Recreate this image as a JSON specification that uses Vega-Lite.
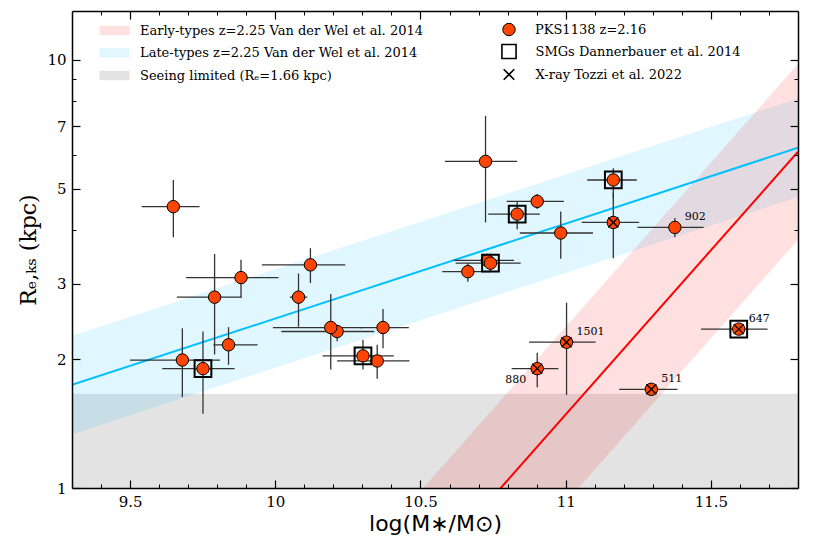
{
  "$schema": "https://vega.github.io/schema/vega-lite/v6.json",
  "width": 726,
  "height": 477,
  "autosize": {"type": "none"},
  "padding": {"left": 72, "top": 11, "right": 32, "bottom": 66},
  "background": "white",
  "config": {"view": {"stroke": null}, "font": "DejaVu Serif"},
  "datasets": {
    "gal": [
      {"M": 9.649, "R": 4.54, "xlo": 9.54, "xhi": 9.739, "ylo": 3.85, "yhi": 5.24},
      {"M": 9.882, "R": 3.10, "xlo": 9.693, "xhi": 10.011, "ylo": 2.79, "yhi": 3.41},
      {"M": 9.791, "R": 2.79, "xlo": 9.661, "xhi": 9.885, "ylo": 2.05, "yhi": 3.52},
      {"M": 9.839, "R": 2.16, "xlo": 9.787, "xhi": 9.939, "ylo": 1.94, "yhi": 2.375},
      {"M": 9.68, "R": 1.99, "xlo": 9.5, "xhi": 9.81, "ylo": 1.63, "yhi": 2.36},
      {"M": 9.751, "R": 1.90, "xlo": 9.611, "xhi": 9.86, "ylo": 1.49, "yhi": 2.32, "smg": true},
      {"M": 10.08, "R": 2.79, "xlo": 10.05, "xhi": 10.11, "ylo": 2.38, "yhi": 3.17},
      {"M": 10.121, "R": 3.32, "xlo": 9.954, "xhi": 10.241, "ylo": 3.01, "yhi": 3.63},
      {"M": 10.213, "R": 2.32, "xlo": 10.021, "xhi": 10.341, "ylo": 2.20, "yhi": 2.40},
      {"M": 10.191, "R": 2.37, "xlo": 9.992, "xhi": 10.30, "ylo": 1.89, "yhi": 2.84},
      {"M": 10.371, "R": 2.37, "xlo": 10.293, "xhi": 10.46, "ylo": 2.12, "yhi": 2.62},
      {"M": 10.302, "R": 2.035, "xlo": 10.163, "xhi": 10.408, "ylo": 1.89, "yhi": 2.22, "smg": true},
      {"M": 10.351, "R": 1.98, "xlo": 10.213, "xhi": 10.462, "ylo": 1.80, "yhi": 2.16},
      {"M": 10.902, "R": 4.67, "xlo": 10.797, "xhi": 10.994, "ylo": 4.48, "yhi": 4.86},
      {"M": 10.833, "R": 4.36, "xlo": 10.733, "xhi": 10.911, "ylo": 4.02, "yhi": 4.67, "smg": true},
      {"M": 10.983, "R": 3.94, "xlo": 10.842, "xhi": 11.094, "ylo": 3.43, "yhi": 4.42},
      {"M": 11.164, "R": 4.17, "xlo": 11.055, "xhi": 11.253, "ylo": 3.44, "yhi": 4.90, "xray": true},
      {"M": 11.164, "R": 5.24, "xlo": 11.074, "xhi": 11.245, "ylo": 4.75, "yhi": 5.58, "smg": true},
      {"M": 10.663, "R": 3.20, "xlo": 10.575, "xhi": 10.741, "ylo": 3.03, "yhi": 3.35},
      {"M": 10.73, "R": 3.40, "xlo": 10.615, "xhi": 10.822, "ylo": 3.30, "yhi": 3.50},
      {"M": 10.741, "R": 3.35, "xlo": 10.621, "xhi": 10.845, "ylo": 3.20, "yhi": 3.53, "smg": true},
      {"M": 10.724, "R": 5.79, "xlo": 10.584, "xhi": 10.833, "ylo": 4.17, "yhi": 7.40},
      {"M": 11.376, "R": 4.06, "xlo": 11.247, "xhi": 11.475, "ylo": 3.85, "yhi": 4.27, "label": "902"},
      {"M": 11.003, "R": 2.19, "xlo": 10.874, "xhi": 11.103, "ylo": 1.65, "yhi": 2.71, "xray": true, "label": "1501"},
      {"M": 10.902, "R": 1.90, "xlo": 10.814, "xhi": 10.975, "ylo": 1.72, "yhi": 2.07, "xray": true, "label": "880"},
      {"M": 11.295, "R": 1.70, "xlo": 11.184, "xhi": 11.385, "xray": true, "label": "511"},
      {"M": 11.596, "R": 2.35, "xlo": 11.466, "xhi": 11.695, "smg": true, "xray": true, "label": "647"}
    ],
    "bands": [
      {"type": "LTG", "M": 9.3, "mid": 1.741, "lo": 1.336, "hi": 2.269},
      {"type": "LTG", "M": 11.8, "mid": 6.23, "lo": 4.78, "hi": 8.12},
      {"type": "ETG", "M": 10.3, "mid": 0.431, "lo": 0.269, "hi": 0.691},
      {"type": "ETG", "M": 11.8, "mid": 6.10, "lo": 3.80, "hi": 9.77}
    ],
    "seeing": [{"x0": 9.3, "x1": 11.8, "r0": 1, "r1": 1.66}]
  },
  "layer": [
    {
      "data": {"name": "seeing"},
      "mark": {"type": "rect"},
      "encoding": {
        "x": {"field": "x0", "type": "quantitative", "scale": {"domain": [9.3, 11.8], "nice": false, "zero": false},
          "axis": {"orient": "bottom", "values": [9.5, 10, 10.5, 11, 11.5], "format": "~g", "tickSize": -8, "tickWidth": 1.2, "tickColor": "black", "labelPadding": 14, "labelFont": "DejaVu Serif", "labelFontSize": 15, "labelColor": "black", "domain": true, "domainColor": "black", "domainWidth": 1.5, "grid": false, "zindex": 1, "title": "log(M∗/M⊙)", "titleFont": "DejaVu Sans", "titleFontSize": 22, "titleFontWeight": "normal", "titleColor": "black", "titlePadding": 4}},
        "x2": {"field": "x1"},
        "y": {"field": "r0", "type": "quantitative", "scale": {"type": "log", "domain": [1, 13], "nice": false},
          "axis": {"orient": "left", "values": [1, 2, 3, 5, 7, 10], "format": "~g", "tickSize": -8, "tickWidth": 1.2, "tickColor": "black", "labelPadding": 14, "labelFont": "DejaVu Serif", "labelFontSize": 15, "labelColor": "black", "domain": true, "domainColor": "black", "domainWidth": 1.5, "grid": false, "zindex": 1, "title": "Rₑ,ₖₛ (kpc)", "titleFont": "DejaVu Serif", "titleFontSize": 22, "titleFontWeight": "normal", "titleColor": "black", "titlePadding": 6}},
        "y2": {"field": "r1"},
        "fill": {"datum": "Seeing limited (Rₑ=1.66 kpc)", "type": "nominal",
          "scale": {"domain": ["Early-types z=2.25 Van der Wel et al. 2014", "Late-types z=2.25 Van der Wel et al. 2014", "Seeing limited (Rₑ=1.66 kpc)"], "range": ["rgba(255,0,0,0.12)", "rgba(0,191,255,0.12)", "rgba(128,128,128,0.22)"]},
          "legend": {"orient": "none", "legendX": 33, "legendY": 10, "title": null, "symbolType": "M-1.6,-0.5H1.6V0.5H-1.6Z", "symbolSize": 353, "symbolStrokeWidth": 0, "labelFont": "DejaVu Serif", "labelFontSize": 13, "labelColor": "black", "labelOffset": 16, "labelLimit": 500, "rowPadding": 5.5, "padding": 0}}
      }
    },
    {
      "data": {"name": "bands"},
      "transform": [{"filter": "datum.type === 'LTG'"}],
      "mark": {"type": "area", "clip": true},
      "encoding": {
        "x": {"field": "M", "type": "quantitative", "scale": {"domain": [9.3, 11.8], "nice": false, "zero": false},
          "axis": {"orient": "bottom", "values": [9.4, 9.6, 9.7, 9.8, 9.9, 10.1, 10.2, 10.3, 10.4, 10.6, 10.7, 10.8, 10.9, 11.1, 11.2, 11.3, 11.4, 11.6, 11.7], "tickSize": -4, "tickWidth": 1, "tickColor": "black", "labels": false, "domain": false, "grid": false, "zindex": 1, "title": null}},
        "y": {"field": "lo", "type": "quantitative", "scale": {"type": "log", "domain": [1, 13], "nice": false},
          "axis": {"orient": "left", "values": [4, 6, 8, 9], "tickSize": -4, "tickWidth": 1, "tickColor": "black", "labels": false, "domain": false, "grid": false, "zindex": 1, "title": null}},
        "y2": {"field": "hi"},
        "fill": {"datum": "Late-types z=2.25 Van der Wel et al. 2014", "type": "nominal"}
      }
    },
    {
      "data": {"name": "bands"},
      "transform": [{"filter": "datum.type === 'ETG'"}],
      "mark": {"type": "area", "clip": true},
      "encoding": {
        "x": {"field": "M", "type": "quantitative", "scale": {"domain": [9.3, 11.8], "nice": false, "zero": false},
          "axis": {"orient": "top", "values": [9.5, 10, 10.5, 11, 11.5], "tickSize": -8, "tickWidth": 1.2, "tickColor": "black", "labels": false, "domain": true, "domainColor": "black", "domainWidth": 1.5, "grid": false, "zindex": 1, "title": null}},
        "y": {"field": "lo", "type": "quantitative", "scale": {"type": "log", "domain": [1, 13], "nice": false},
          "axis": {"orient": "right", "values": [1, 2, 3, 5, 7, 10], "tickSize": -8, "tickWidth": 1.2, "tickColor": "black", "labels": false, "domain": true, "domainColor": "black", "domainWidth": 1.5, "grid": false, "zindex": 1, "title": null}},
        "y2": {"field": "hi"},
        "fill": {"datum": "Early-types z=2.25 Van der Wel et al. 2014", "type": "nominal"}
      }
    },
    {
      "data": {"name": "bands"},
      "transform": [{"filter": "datum.type === 'LTG'"}],
      "mark": {"type": "line", "color": "#00bfff", "strokeWidth": 2, "clip": true},
      "encoding": {
        "x": {"field": "M", "type": "quantitative", "scale": {"domain": [9.3, 11.8], "nice": false, "zero": false},
          "axis": {"orient": "top", "values": [9.4, 9.6, 9.7, 9.8, 9.9, 10.1, 10.2, 10.3, 10.4, 10.6, 10.7, 10.8, 10.9, 11.1, 11.2, 11.3, 11.4, 11.6, 11.7], "tickSize": -4, "tickWidth": 1, "tickColor": "black", "labels": false, "domain": false, "grid": false, "zindex": 1, "title": null}},
        "y": {"field": "mid", "type": "quantitative", "scale": {"type": "log", "domain": [1, 13], "nice": false},
          "axis": {"orient": "right", "values": [4, 6, 8, 9], "tickSize": -4, "tickWidth": 1, "tickColor": "black", "labels": false, "domain": false, "grid": false, "zindex": 1, "title": null}}
      }
    },
    {
      "data": {"name": "bands"},
      "transform": [{"filter": "datum.type === 'ETG'"}],
      "mark": {"type": "line", "color": "#ff0000", "strokeWidth": 2, "clip": true},
      "encoding": {
        "x": {"field": "M", "type": "quantitative", "scale": {"domain": [9.3, 11.8], "nice": false, "zero": false}, "axis": null},
        "y": {"field": "mid", "type": "quantitative", "scale": {"type": "log", "domain": [1, 13], "nice": false}, "axis": null}
      }
    },
    {
      "data": {"name": "gal"},
      "mark": {"type": "rule", "color": "#333333", "strokeWidth": 1.3},
      "encoding": {
        "x": {"field": "xlo", "type": "quantitative", "scale": {"domain": [9.3, 11.8], "nice": false, "zero": false}, "axis": null},
        "x2": {"field": "xhi"},
        "y": {"field": "R", "type": "quantitative", "scale": {"type": "log", "domain": [1, 13], "nice": false}, "axis": null}
      }
    },
    {
      "data": {"name": "gal"},
      "transform": [{"filter": "datum.ylo != null"}],
      "mark": {"type": "rule", "color": "#333333", "strokeWidth": 1.3},
      "encoding": {
        "x": {"field": "M", "type": "quantitative", "scale": {"domain": [9.3, 11.8], "nice": false, "zero": false}, "axis": null},
        "y": {"field": "ylo", "type": "quantitative", "scale": {"type": "log", "domain": [1, 13], "nice": false}, "axis": null},
        "y2": {"field": "yhi"}
      }
    },
    {
      "data": {"name": "gal"},
      "mark": {"type": "point", "shape": "circle", "filled": true, "stroke": "black", "strokeWidth": 1, "size": 154, "opacity": 1},
      "encoding": {
        "x": {"field": "M", "type": "quantitative", "scale": {"domain": [9.3, 11.8], "nice": false, "zero": false}, "axis": null},
        "y": {"field": "R", "type": "quantitative", "scale": {"type": "log", "domain": [1, 13], "nice": false}, "axis": null},
        "color": {"datum": "PKS1138 z=2.16", "type": "nominal",
          "scale": {"domain": ["PKS1138 z=2.16"], "range": ["#ff4500"]},
          "legend": {"orient": "none", "legendX": 430, "legendY": 11.5, "title": null, "labelFont": "DejaVu Serif", "labelFontSize": 13, "labelColor": "black", "labelOffset": 19, "labelLimit": 500, "padding": 0, "symbolSize": 154, "symbolType": "circle", "symbolStrokeColor": "black", "symbolStrokeWidth": 1, "symbolOpacity": 1}}
      }
    },
    {
      "data": {"name": "gal"},
      "transform": [{"filter": "datum.smg"}],
      "mark": {"type": "point", "filled": false, "color": "black", "strokeWidth": 2, "size": 280, "opacity": 1},
      "encoding": {
        "x": {"field": "M", "type": "quantitative", "scale": {"domain": [9.3, 11.8], "nice": false, "zero": false}, "axis": null},
        "y": {"field": "R", "type": "quantitative", "scale": {"type": "log", "domain": [1, 13], "nice": false}, "axis": null},
        "shape": {"datum": "SMGs Dannerbauer et al. 2014", "type": "nominal",
          "scale": {"domain": ["SMGs Dannerbauer et al. 2014", "X-ray Tozzi et al. 2022"], "range": ["square", "M-0.75,-0.75L0.75,0.75M-0.75,0.75L0.75,-0.75"]},
          "legend": {"orient": "none", "legendX": 429, "legendY": 32.5, "title": null, "labelFont": "DejaVu Serif", "labelFontSize": 13, "labelColor": "black", "labelOffset": 18.5, "labelLimit": 500, "rowPadding": 3, "padding": 0, "symbolSize": 200, "symbolStrokeColor": "black", "symbolStrokeWidth": 1.6, "symbolFillColor": "transparent", "symbolOpacity": 1}}
      }
    },
    {
      "data": {"name": "gal"},
      "transform": [{"filter": "datum.xray"}],
      "mark": {"type": "point", "filled": false, "color": "black", "strokeWidth": 1.3, "size": 178, "opacity": 1},
      "encoding": {
        "x": {"field": "M", "type": "quantitative", "scale": {"domain": [9.3, 11.8], "nice": false, "zero": false}, "axis": null},
        "y": {"field": "R", "type": "quantitative", "scale": {"type": "log", "domain": [1, 13], "nice": false}, "axis": null},
        "shape": {"datum": "X-ray Tozzi et al. 2022", "type": "nominal"}
      }
    },
    {
      "data": {"name": "gal"},
      "transform": [{"filter": "datum.label && datum.label !== '880'"}],
      "mark": {"type": "text", "font": "DejaVu Serif", "fontSize": 11, "color": "black", "align": "left", "baseline": "middle", "dx": 10, "dy": -10},
      "encoding": {
        "x": {"field": "M", "type": "quantitative", "scale": {"domain": [9.3, 11.8], "nice": false, "zero": false}, "axis": null},
        "y": {"field": "R", "type": "quantitative", "scale": {"type": "log", "domain": [1, 13], "nice": false}, "axis": null},
        "text": {"field": "label"}
      }
    },
    {
      "data": {"name": "gal"},
      "transform": [{"filter": "datum.label === '880'"}],
      "mark": {"type": "text", "font": "DejaVu Serif", "fontSize": 11, "color": "black", "align": "right", "baseline": "middle", "dx": -11, "dy": 11},
      "encoding": {
        "x": {"field": "M", "type": "quantitative", "scale": {"domain": [9.3, 11.8], "nice": false, "zero": false}, "axis": null},
        "y": {"field": "R", "type": "quantitative", "scale": {"type": "log", "domain": [1, 13], "nice": false}, "axis": null},
        "text": {"field": "label"}
      }
    }
  ],
  "resolve": {"axis": {"x": "independent", "y": "independent"}}
}
